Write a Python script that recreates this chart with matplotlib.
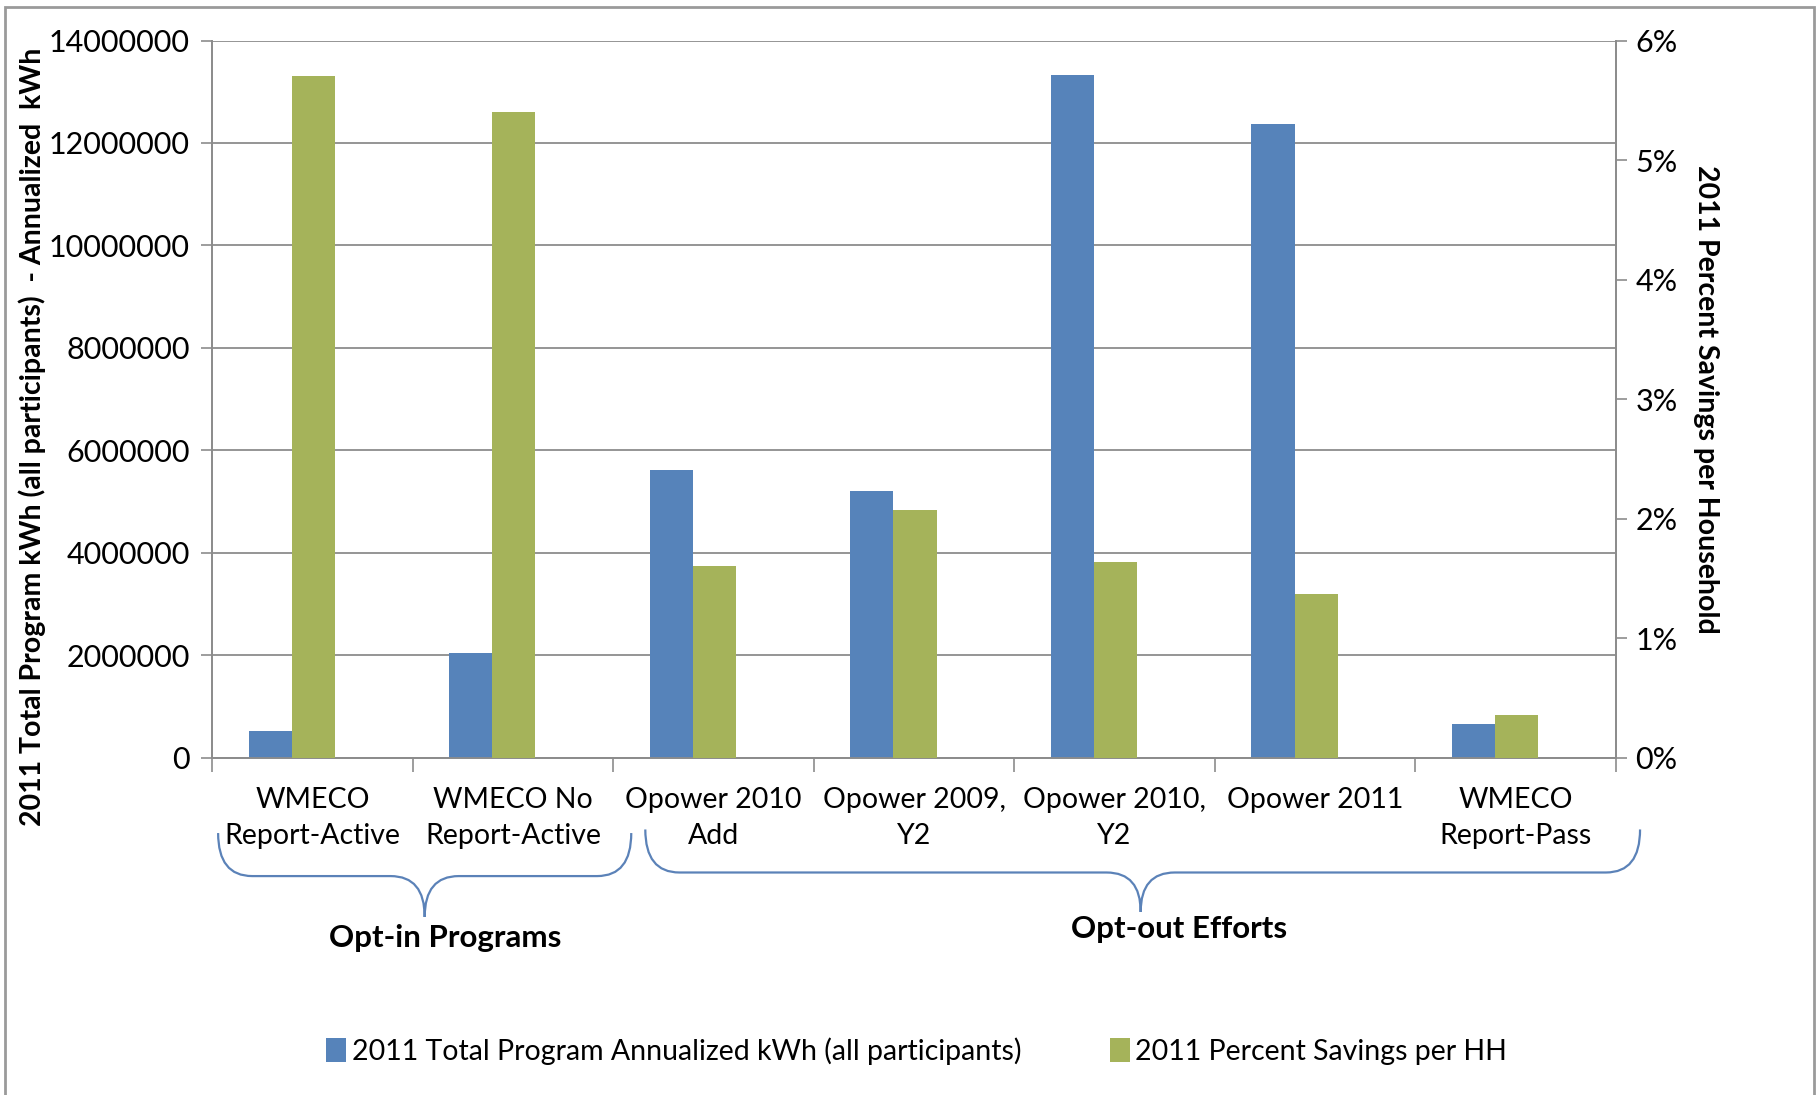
import numpy as np
import matplotlib.pyplot as plt
from matplotlib.path import Path
from matplotlib.patches import PathPatch, Rectangle
from matplotlib.ticker import FuncFormatter, PercentFormatter

plt.rcParams['font.family'] = ['Lato', 'DejaVu Sans']

# Datos
programs = ['WMECO\nReport-Active', 'WMECO No\nReport-Active', 'Opower 2010\nAdd',
            'Opower 2009,\nY2', 'Opower 2010,\nY2', 'Opower 2011', 'WMECO\nReport-Pass']
total_kwh = [530000, 2040000, 5620000, 5210000, 13330000, 12380000, 660000]
pct_savings = [5.70, 5.40, 1.60, 2.07, 1.64, 1.37, 0.36]

kwh_label = '2011 Total Program Annualized kWh (all participants)'
pct_label = '2011 Percent Savings per HH'
groups = ['Opt-in Programs', 'Opt-out Efforts']

blue = '#5683BA'
green = '#A5B35A'
grid_c = '#8C8C8C'
brace_c = '#5B82B8'

fig = plt.figure(figsize=(18.19, 10.95), dpi=100)
ax = fig.add_axes([0.1166, 0.308, 0.7718, 0.655])
ax2 = ax.twinx()

x = np.arange(len(programs))
w = 0.215
b1 = ax.bar(x - 0.21, total_kwh, width=w, color=blue, zorder=3, label=kwh_label)
b2 = ax2.bar(x + 0.005, pct_savings, width=w, color=green, zorder=3, label=pct_label)

# Eje izquierdo
ax.set_ylim(0, 14000000)
ax.set_yticks(np.arange(0, 14000001, 2000000))
ax.yaxis.set_major_formatter(FuncFormatter(lambda v, p: f'{int(v)}'))
ax.grid(axis='y', color=grid_c, linewidth=1.3, zorder=0)
ax.set_axisbelow(True)
ax.tick_params(axis='y', labelsize=22, length=8, color=grid_c, width=1.2, pad=8)
ax.set_ylabel('2011 Total Program kWh (all participants)  - Annualized  kWh',
              fontsize=20.5, fontweight='bold')
ax.yaxis.set_label_coords(-0.118, 0.447)

# Eje derecho
ax2.set_ylim(0, 6)
ax2.set_yticks(np.arange(0, 7, 1))
ax2.yaxis.set_major_formatter(PercentFormatter(decimals=0))
ax2.tick_params(axis='y', labelsize=22, length=8, color=grid_c, width=1.2, pad=6)
ax2.set_ylabel('2011 Percent Savings per Household', fontsize=20.5, fontweight='bold',
               rotation=-90, labelpad=30)

# Eje x
ax.set_xlim(-0.5, len(programs) - 0.5)
ax.set_xticks(np.arange(-0.5, len(programs)), [''] * (len(programs) + 1))
ax.set_xticks(x, programs, minor=True)
ax.tick_params(axis='x', which='major', length=10, color=grid_c, width=1.2)
ax.tick_params(axis='x', which='minor', length=0, labelsize=20.5, pad=21)
for lbl in ax.get_xticklabels(minor=True):
    lbl.set_linespacing(1.5)

for a in (ax, ax2):
    a.spines['top'].set_visible(False)
    for s in ('left', 'right', 'bottom'):
        a.spines[s].set_color(grid_c)
        a.spines[s].set_linewidth(1.3)


# Llaves bajo las etiquetas
def brace(x0, x1, xc, ytop, ymid, ypt, r=0.17):
    verts = [(x0, ytop), (x0, ymid), (x0 + r, ymid),
             (xc - r, ymid), (xc, ymid), (xc, ypt),
             (xc, ymid), (xc + r, ymid),
             (x1 - r, ymid), (x1, ymid), (x1, ytop)]
    codes = [Path.MOVETO, Path.CURVE3, Path.CURVE3,
             Path.LINETO, Path.CURVE3, Path.CURVE3,
             Path.CURVE3, Path.CURVE3,
             Path.LINETO, Path.CURVE3, Path.CURVE3]
    patch = PathPatch(Path(verts, codes), fill=False, edgecolor=brace_c, linewidth=1.6,
                      transform=ax.get_xaxis_transform(), clip_on=False)
    ax.add_patch(patch)


brace(-0.47, 1.59, 0.56, -0.105, -0.165, -0.222)
brace(1.66, 6.62, 4.13, -0.100, -0.160, -0.215)

ax.text(0.66, -0.251, groups[0], transform=ax.get_xaxis_transform(), ha='center',
        va='center', fontsize=22.5, fontweight='bold')
ax.text(4.32, -0.239, groups[1], transform=ax.get_xaxis_transform(), ha='center',
        va='center', fontsize=22.5, fontweight='bold')

# Leyenda
fig.legend(handles=[b1, b2], loc='center', bbox_to_anchor=(0.504, 0.04), ncol=2,
           frameon=False, fontsize=20.5, handlelength=0.7, handleheight=0.9,
           handletextpad=0.2, columnspacing=3.1)

# Borde de la figura
fig.patches.append(Rectangle((0.003, -0.05), 0.994, 1.044, transform=fig.transFigure,
                             fill=False, edgecolor='#9A9A9A', linewidth=2))

fig.savefig('out.png', dpi=100)
